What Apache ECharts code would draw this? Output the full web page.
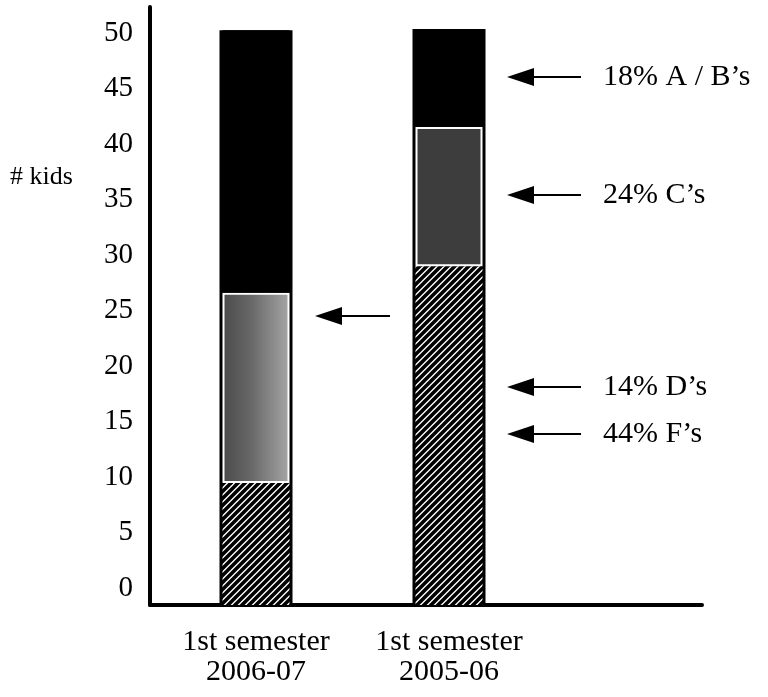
<!DOCTYPE html>
<html>
<head>
<meta charset="utf-8">
<script src="https://cdn.jsdelivr.net/npm/echarts@6/dist/echarts.min.js"></script>
<style>html,body{margin:0;padding:0;background:#fff;}#c{width:768px;height:697px;}</style>
</head>
<body>
<div id="c"></div>
<script>
// ---- data ----
const categories = ['1st semester\n2006-07', '1st semester\n2005-06'];
const fGrades  = [10.6, 29.4];   // hatched segment (bottom)
const cdGrades = [16.5, 12.1];   // stippled grey segment (middle)
const abGrades = [22.8, 8.6];    // black segment (top)
const yMin = 0, yMax = 50, yStep = 5;
const axisTitle = '# kids';
const annotationTexts = ['18% A / B\u2019s', '24% C\u2019s', '14% D\u2019s', '44% F\u2019s'];

// ---- styles ----
const FONT = 'Liberation Serif';
function hatchPattern() {
  const s = 7;
  const c = document.createElement('canvas');
  c.width = s; c.height = s;
  const ctx = c.getContext('2d');
  ctx.fillStyle = '#fff';
  ctx.fillRect(0, 0, s, s);
  ctx.strokeStyle = '#000';
  ctx.lineWidth = 3.6;
  ctx.beginPath();
  ctx.moveTo(-1, s + 1); ctx.lineTo(s + 1, -1);
  ctx.moveTo(-2, 2); ctx.lineTo(2, -2);
  ctx.moveTo(s - 2, s + 2); ctx.lineTo(s + 2, s - 2);
  ctx.stroke();
  return c;
}
const hatchFill = { image: hatchPattern(), repeat: 'repeat' };
const greyFills = [
  new echarts.graphic.LinearGradient(0, 0, 1, 0, [
    { offset: 0, color: '#4a4a4a' }, { offset: 0.45, color: '#6a6a6a' }, { offset: 1, color: '#a6a6a6' }
  ]),
  '#3d3d3d'
];

const chart = echarts.init(document.getElementById('c'), null, { renderer: 'canvas' });

// annotation layout (pixels)
const annoX = 603;
const annoY = [77, 195, 387, 434];
function arrow(tipX, tailX, y) {
  return {
    type: 'group',
    children: [
      { type: 'line', shape: { x1: tipX + 20, y1: y, x2: tailX, y2: y }, style: { stroke: '#000', lineWidth: 2.2 } },
      { type: 'polygon', shape: { points: [[tipX, y], [tipX + 27, y - 9], [tipX + 27, y + 9]] }, style: { fill: '#000' } }
    ]
  };
}
const graphics = [
  { type: 'text', left: 10, top: 164, style: { text: axisTitle, font: '26px ' + FONT, fill: '#000' } }
];
annotationTexts.forEach((t, i) => {
  graphics.push(arrow(507, 581, annoY[i]));
  graphics.push({ type: 'text', x: annoX, y: annoY[i], style: { text: t, font: '30px ' + FONT, fill: '#000', verticalAlign: 'middle', align: 'left' } });
});
graphics.push(arrow(315, 390, 316));

const totals = fGrades.map((v, i) => v + cdGrades[i] + abGrades[i]);
const barGrid = { left: 159.5, top: 29, width: 386, height: 576 };

const option = {
  animation: false,
  backgroundColor: '#fff',
  grid: [
    { left: 150, top: 7, width: 552, height: 598 },
    barGrid,
    { left: 150, top: 33, width: 552, height: 555 },
    barGrid
  ],
  xAxis: [
    { gridIndex: 0, type: 'value', min: 0, max: 1,
      axisLine: { show: true, onZero: false, lineStyle: { color: '#000', width: 4 } },
      axisTick: { show: false }, axisLabel: { show: false }, splitLine: { show: false } },
    { gridIndex: 1, type: 'category', data: categories,
      axisLine: { show: false }, axisTick: { show: false }, splitLine: { show: false },
      axisLabel: { interval: 0, color: '#000', fontFamily: FONT, fontSize: 30, lineHeight: 30, margin: 22 } },
    { gridIndex: 2, type: 'value', min: 0, max: 1, show: false },
    { gridIndex: 3, type: 'category', data: categories, show: false }
  ],
  yAxis: [
    { gridIndex: 0, type: 'value', min: 0, max: 1,
      axisLine: { show: true, onZero: false, lineStyle: { color: '#000', width: 4 } },
      axisTick: { show: false }, axisLabel: { show: false }, splitLine: { show: false } },
    { gridIndex: 1, type: 'value', min: yMin, max: yMax, show: false },
    { gridIndex: 2, type: 'value', min: yMin, max: yMax, interval: yStep,
      axisLine: { show: false }, axisTick: { show: false }, splitLine: { show: false },
      axisLabel: { color: '#000', fontFamily: FONT, fontSize: 29, margin: 17 } },
    { gridIndex: 3, type: 'value', min: yMin, max: yMax, show: false }
  ],
  graphic: graphics,
  series: [
    { name: 'outline', type: 'bar', xAxisIndex: 3, yAxisIndex: 3, barWidth: 73, z: 1,
      data: totals, itemStyle: { color: '#000' } },
    { name: 'F', type: 'bar', xAxisIndex: 1, yAxisIndex: 1, stack: 'g', barWidth: 67, z: 2,
      data: fGrades, itemStyle: { color: hatchFill } },
    { name: 'C/D', type: 'bar', xAxisIndex: 1, yAxisIndex: 1, stack: 'g', barWidth: 66, z: 2,
      data: cdGrades.map((v, i) => ({ value: v, itemStyle: { color: greyFills[i] } })),
      itemStyle: { borderColor: '#fff', borderWidth: 2 } },
    { name: 'A/B', type: 'bar', xAxisIndex: 1, yAxisIndex: 1, stack: 'g', barWidth: 67, z: 2,
      data: abGrades, itemStyle: { color: '#000' } }
  ]
};
chart.setOption(option);
</script>
</body>
</html>
